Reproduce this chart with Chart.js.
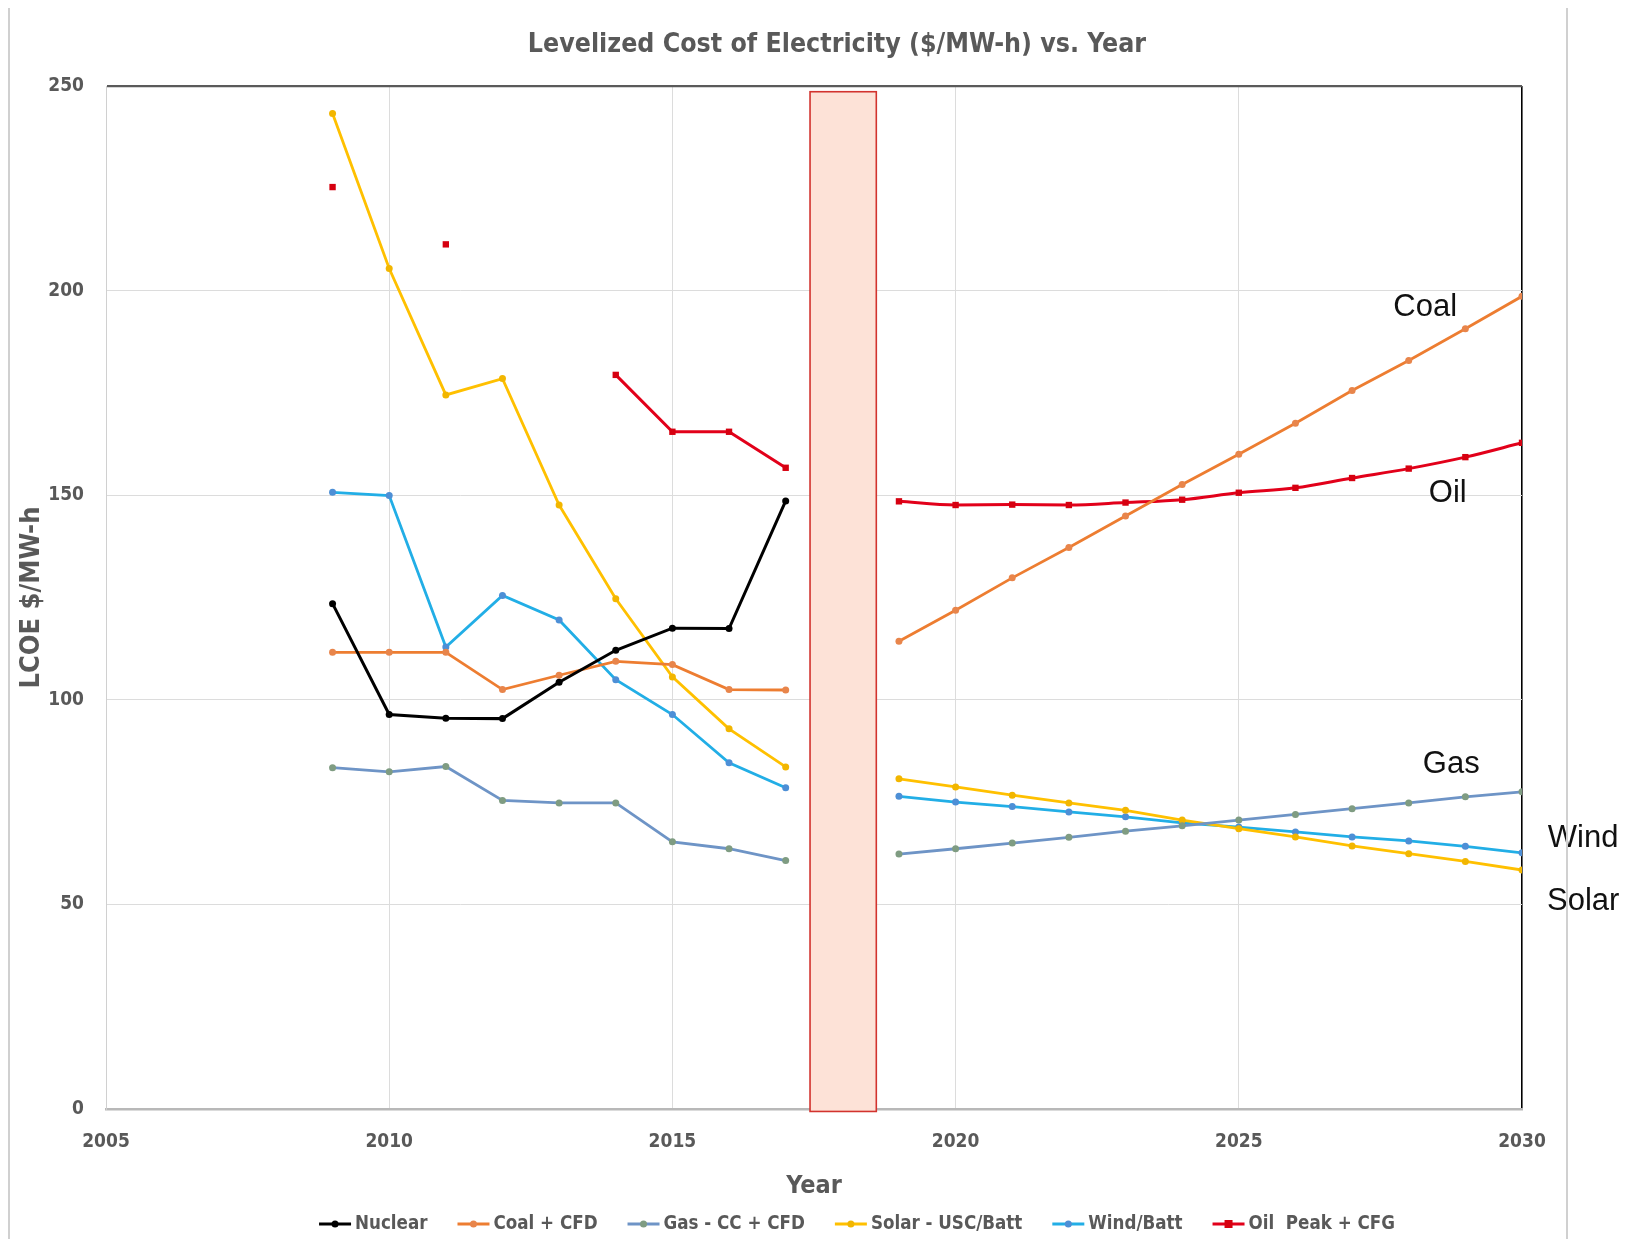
<!DOCTYPE html>
<html>
<head>
<meta charset="utf-8">
<script src="https://cdn.jsdelivr.net/npm/chart.js@4.4.1/dist/chart.umd.min.js"></script>
<style>
  html, body { margin: 0; padding: 0; background: #fff; }
  #wrap { position: relative; width: 1631px; height: 1239px; }
</style>
</head>
<body>
<div id="wrap"><canvas id="grafico"></canvas></div>
<script>
// --- DATA ---
const pastYears = [2009, 2010, 2011, 2012, 2013, 2014, 2015, 2016, 2017];
const futureYears = [2019, 2020, 2021, 2022, 2023, 2024, 2025, 2026, 2027, 2028, 2029, 2030];

const nuclearPast = [123.5, 96.4, 95.5, 95.4, 104.3, 112.1, 117.5, 117.4, 148.6];
const coalPast    = [111.6, 111.6, 111.6, 102.5, 106.0, 109.4, 108.6, 102.5, 102.4];
const gasPast     = [83.4, 82.4, 83.7, 75.4, 74.8, 74.8, 65.3, 63.6, 60.7];
const solarPast   = [243.3, 205.4, 174.5, 178.5, 147.6, 124.7, 105.6, 92.9, 83.6];
const windPast    = [150.7, 149.9, 112.9, 125.5, 119.5, 104.9, 96.4, 84.6, 78.5];
const oilPast     = [225.3, null, 211.3, null, null, 179.4, 165.5, 165.5, 156.7];

const coalFuture  = [114.3, 121.9, 129.8, 137.2, 144.9, 152.6, 160.0, 167.6, 175.6, 182.9, 190.7, 198.6];
const gasFuture   = [62.3, 63.6, 65.0, 66.4, 67.9, 69.2, 70.6, 72.0, 73.4, 74.8, 76.3, 77.5];
const solarFuture = [80.7, 78.7, 76.7, 74.8, 73.0, 70.6, 68.5, 66.5, 64.3, 62.4, 60.5, 58.4];
const windFuture  = [76.4, 75.0, 73.9, 72.6, 71.4, 69.9, 68.9, 67.7, 66.5, 65.5, 64.2, 62.6];
const oilFuture   = [148.5, 147.6, 147.7, 147.6, 148.2, 148.9, 150.6, 151.8, 154.2, 156.5, 159.3, 162.8];

const seriesNames = ['Nuclear', 'Coal + CFD', 'Gas - CC + CFD', 'Solar - USC/Batt', 'Wind/Batt', 'Oil  Peak + CFG'];

// shaded gap between history and projection (years, values)
const bandYears = [2017.43, 2018.6];
const bandValues = [-0.6, 248.6];

// line labels at the right: [text, year, value]
const lineLabels = [
  ['Coal', 2028.29, 196.0],
  ['Oil', 2028.69, 150.4],
  ['Gas', 2028.75, 84.1],
  ['Wind', 2031.08, 66.1],
  ['Solar', 2031.08, 50.6]
];

const FONT = "'Liberation Sans Narrow', 'DejaVu Sans Condensed', 'Liberation Sans', sans-serif";
const CINZA = '#595959';

function serie(label, anos, valores, cor, corPonto, extra) {
  return Object.assign({
    label: label,
    data: anos.map((a, i) => ({ x: a, y: valores[i] })),
    borderColor: cor,
    backgroundColor: corPonto,
    pointBackgroundColor: corPonto,
    pointBorderColor: corPonto,
    pointRadius: 3.5,
    pointBorderWidth: 0,
    borderWidth: 2.8,
    tension: 0,
    legenda: false
  }, extra || {});
}

const datasets = [
  serie(seriesNames[0], pastYears, nuclearPast, '#000000', '#000000', { legenda: true, borderWidth: 3 }),
  serie(seriesNames[1], pastYears, coalPast, '#ed7d31', '#e8854b', { legenda: true }),
  serie(seriesNames[2], pastYears, gasPast, '#6e94c6', '#7f9c82', { legenda: true }),
  serie(seriesNames[3], pastYears, solarPast, '#ffc000', '#f2b600', { legenda: true }),
  serie(seriesNames[4], pastYears, windPast, '#22aee6', '#4d8fd6', { legenda: true }),
  serie(seriesNames[5], pastYears, oilPast, '#e2001a', '#d60010', { legenda: true, pointStyle: 'rect', pointRadius: 4.5, borderWidth: 3 }),
  serie(seriesNames[1], futureYears, coalFuture, '#ed7d31', '#e8854b'),
  serie(seriesNames[2], futureYears, gasFuture, '#6e94c6', '#7f9c82'),
  serie(seriesNames[3], futureYears, solarFuture, '#ffc000', '#f2b600'),
  serie(seriesNames[4], futureYears, windFuture, '#22aee6', '#4d8fd6'),
  serie(seriesNames[5], futureYears, oilFuture, '#e2001a', '#d60010', { pointStyle: 'rect', pointRadius: 4.5, borderWidth: 3, tension: 0.4, cubicInterpolationMode: 'monotone' })
];

// --- DESENHOS EXTRAS (faixa, título, rótulos, legenda) ---
const extras = {
  id: 'extras',
  beforeDatasetsDraw(chart) {
    const { ctx, scales: { x, y } } = chart;
    const x0 = x.getPixelForValue(bandYears[0]);
    const x1 = x.getPixelForValue(bandYears[1]);
    const yTop = y.getPixelForValue(bandValues[1]);
    const yBot = y.getPixelForValue(bandValues[0]);
    ctx.save();
    ctx.fillStyle = '#fde2d7';
    ctx.fillRect(x0, yTop, x1 - x0, yBot - yTop);
    ctx.strokeStyle = '#d2332e';
    ctx.lineWidth = 1.6;
    ctx.strokeRect(x0, yTop, x1 - x0, yBot - yTop);
    ctx.restore();
  },
  afterDraw(chart) {
    const { ctx, scales: { x, y } } = chart;
    ctx.save();

    // título
    ctx.fillStyle = CINZA;
    ctx.font = 'bold 26.5px ' + FONT;
    ctx.textAlign = 'center';
    ctx.textBaseline = 'middle';
    ctx.fillText('Levelized Cost of Electricity ($/MW-h) vs. Year', 837, 45);

    // rótulos das linhas
    ctx.fillStyle = '#111';
    ctx.font = "31px 'Liberation Sans', sans-serif";
    lineLabels.forEach(([txt, ano, val]) => {
      ctx.fillText(txt, x.getPixelForValue(ano), y.getPixelForValue(val));
    });

    // legenda
    const itens = chart.data.datasets.filter(d => d.legenda);
    ctx.font = 'bold 18.6px ' + FONT;
    const larguraLinha = 32, gap = 4, espaco = 30;
    let total = 0;
    itens.forEach(d => { total += larguraLinha + gap + ctx.measureText(d.label).width + espaco; });
    total -= espaco;
    let lx = 857 - total / 2;
    const ly = 1224;
    itens.forEach(d => {
      ctx.strokeStyle = d.borderColor;
      ctx.lineWidth = 2.8;
      ctx.beginPath();
      ctx.moveTo(lx, ly);
      ctx.lineTo(lx + larguraLinha, ly);
      ctx.stroke();
      ctx.fillStyle = d.pointBackgroundColor;
      if (d.pointStyle === 'rect') {
        ctx.fillRect(lx + larguraLinha / 2 - 4, ly - 4, 8, 8);
      } else {
        ctx.beginPath();
        ctx.arc(lx + larguraLinha / 2, ly, 3.5, 0, Math.PI * 2);
        ctx.fill();
      }
      ctx.fillStyle = CINZA;
      ctx.textAlign = 'left';
      ctx.fillText(d.label, lx + larguraLinha + gap, ly);
      lx += larguraLinha + gap + ctx.measureText(d.label).width + espaco;
    });

    // bordas da imagem original
    ctx.strokeStyle = '#d0d0d0';
    ctx.lineWidth = 2;
    ctx.beginPath();
    ctx.moveTo(9, 8); ctx.lineTo(9, 1239);
    ctx.moveTo(1567, 8); ctx.lineTo(1567, 1239);
    ctx.stroke();
    ctx.restore();
  }
};

const ctxGrafico = document.getElementById('grafico').getContext('2d');
new Chart(ctxGrafico, {
  type: 'line',
  data: { datasets: datasets },
  plugins: [extras],
  options: {
    responsive: true,
    maintainAspectRatio: false,
    animation: false,
    layout: { padding: { left: 10, right: 109, top: 86, bottom: 38 } },
    plugins: {
      legend: { display: false },
      title: { display: false },
      tooltip: { enabled: false }
    },
    scales: {
      x: {
        type: 'linear',
        min: 2005,
        max: 2030,
        ticks: {
          stepSize: 5,
          color: CINZA,
          font: { family: FONT, size: 19, weight: 'bold' },
          padding: 22,
          callback: v => String(v)
        },
        grid: {
          drawTicks: false,
          color: c => (c.tick && c.tick.value === 2030) ? '#000000' : '#dcdcdc',
          lineWidth: c => (c.tick && c.tick.value === 2030) ? 1.6 : 1
        },
        border: { color: '#b8b8b8', width: 2.5 },
        title: {
          display: true,
          text: 'Year',
          color: CINZA,
          font: { family: FONT, size: 25, weight: 'bold' },
          padding: { top: 14, bottom: 0 }
        },
        afterFit: s => { s.height = 92; }
      },
      y: {
        min: 0,
        max: 250,
        ticks: {
          stepSize: 50,
          color: CINZA,
          font: { family: FONT, size: 19, weight: 'bold' },
          padding: 22
        },
        grid: {
          drawTicks: false,
          color: c => (c.tick && c.tick.value === 250) ? '#5a5a5a' : '#dcdcdc',
          lineWidth: c => (c.tick && c.tick.value === 250) ? 2.2 : 1
        },
        border: { color: '#d0d0d0', width: 1 },
        title: {
          display: true,
          text: 'LCOE $/MW-h',
          color: CINZA,
          font: { family: FONT, size: 27, weight: 'bold' },
          padding: { top: 6, bottom: 0 }
        },
        afterFit: s => { s.width = 96; }
      }
    }
  }
});
</script>
</body>
</html>
